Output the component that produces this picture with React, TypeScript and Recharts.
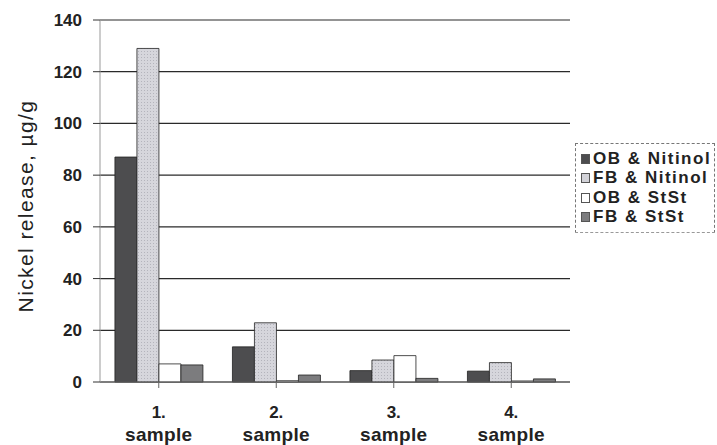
import React from 'react';
import { BarChart, Bar, XAxis, YAxis, CartesianGrid } from 'recharts';

const categories = ['1. sample', '2. sample', '3. sample', '4. sample'];
const obNitinol = [87, 13.6, 4.4, 4.2];
const fbNitinol = [129, 22.9, 8.5, 7.5];
const obStSt = [7, 0.5, 10.2, 0.4];
const fbStSt = [6.6, 2.7, 1.4, 1.2];
const yTicks = [0, 20, 40, 60, 80, 100, 120, 140];

const seriesNames = ['OB & Nitinol', 'FB & Nitinol', 'OB & StSt', 'FB & StSt'];
const seriesColors = ['#4d4d4f', 'url(#dots)', '#ffffff', '#7c7c7e'];
const swatchColors = ['#4d4d4f', '#d2d2d8', '#ffffff', '#7c7c7e'];

const data = categories.map((c, i) => ({
  name: c,
  s0: obNitinol[i],
  s1: fbNitinol[i],
  s2: obStSt[i],
  s3: fbStSt[i],
}));

const FONT = '"Liberation Sans", Arial, sans-serif';

const XTick = (props: any) => {
  const { x, y, payload } = props;
  const parts = String(payload.value).split(' ');
  return (
    <g transform={`translate(${x},${y})`}>
      <text x={0} y={28} textAnchor="middle" fontFamily={FONT} fontWeight="bold" fontSize={17} fill="#222">
        {parts[0]}
      </text>
      <text x={0} y={51} textAnchor="middle" fontFamily={FONT} fontWeight="bold" fontSize={19} fill="#222" letterSpacing={0.3}>
        {parts[1]}
      </text>
    </g>
  );
};

const LegendBox = () => (
  <div
    style={{
      position: 'absolute',
      left: 575,
      top: 143,
      width: 140,
      boxSizing: 'border-box',
      borderTop: '1px dashed #777',
      borderLeft: '1px dashed #777',
      borderRight: '1px dashed #777',
      borderBottom: '1px dashed #999',
      padding: '5px 0 5px 5px',
      fontFamily: FONT,
      fontWeight: 'bold',
      fontSize: 17,
      letterSpacing: 1.5,
      color: '#222',
      background: '#fff',
      whiteSpace: 'nowrap',
    }}
  >
    {seriesNames.map((n, i) => (
      <div key={n} style={{ display: 'flex', alignItems: 'center', height: 19.5 }}>
        <span
          style={{
            display: 'inline-block',
            width: 7,
            height: 8,
            border: '1px solid #555',
            background: swatchColors[i],
            marginRight: 3,
            flex: 'none',
          }}
        />
        <span>{n}</span>
      </div>
    ))}
  </div>
);

const YLabel = (props: any) => {
  const { viewBox } = props;
  const cx = 25;
  const cy = viewBox.y + viewBox.height / 2 + 5;
  return (
    <text
      x={cx}
      y={cy}
      transform={`rotate(-90, ${cx}, ${cy})`}
      textAnchor="middle"
      dominantBaseline="central"
      fontFamily={FONT}
      fontSize={21}
      letterSpacing={1.4}
      fill="#222"
    >
      Nickel release, µg/g
    </text>
  );
};

export default function App() {
  return (
    <div style={{ position: 'absolute', left: 0, top: 0, width: 717, height: 445, background: '#fff' }}>
      <BarChart
        width={717}
        height={445}
        data={data}
        margin={{ top: 20, right: 147, bottom: 0, left: 0 }}
        barCategoryGap="12.7%"
        barGap={0}
      >
        <defs>
          <pattern id="dots" width="3" height="3" patternUnits="userSpaceOnUse">
            <rect width="3" height="3" fill="#d6d6dc" />
            <rect width="1" height="1" fill="#b4b4bc" />
          </pattern>
        </defs>
        <CartesianGrid horizontal vertical={false} stroke="#2a2a2a" strokeWidth={1.2} />
        <XAxis
          dataKey="name"
          height={63}
          axisLine={{ stroke: '#666' }}
          tickLine={{ stroke: '#666' }}
          tickSize={6}
          interval={0}
          tick={<XTick />}
        />
        <YAxis
          width={100}
          domain={[0, 140]}
          ticks={yTicks}
          axisLine={{ stroke: '#999' }}
          tickLine={{ stroke: '#333' }}
          tickSize={7}
          tickMargin={11}
          tick={{ fontFamily: FONT, fontWeight: 'bold', fontSize: 17, fill: '#222' }}
          label={<YLabel />}
        />
        {['s0', 's1', 's2', 's3'].map((k, i) => (
          <Bar
            key={k}
            dataKey={k}
            name={seriesNames[i]}
            fill={seriesColors[i]}
            stroke="#222"
            strokeWidth={0.8}
            isAnimationActive={false}
          />
        ))}
      </BarChart>
      <LegendBox />
    </div>
  );
}
